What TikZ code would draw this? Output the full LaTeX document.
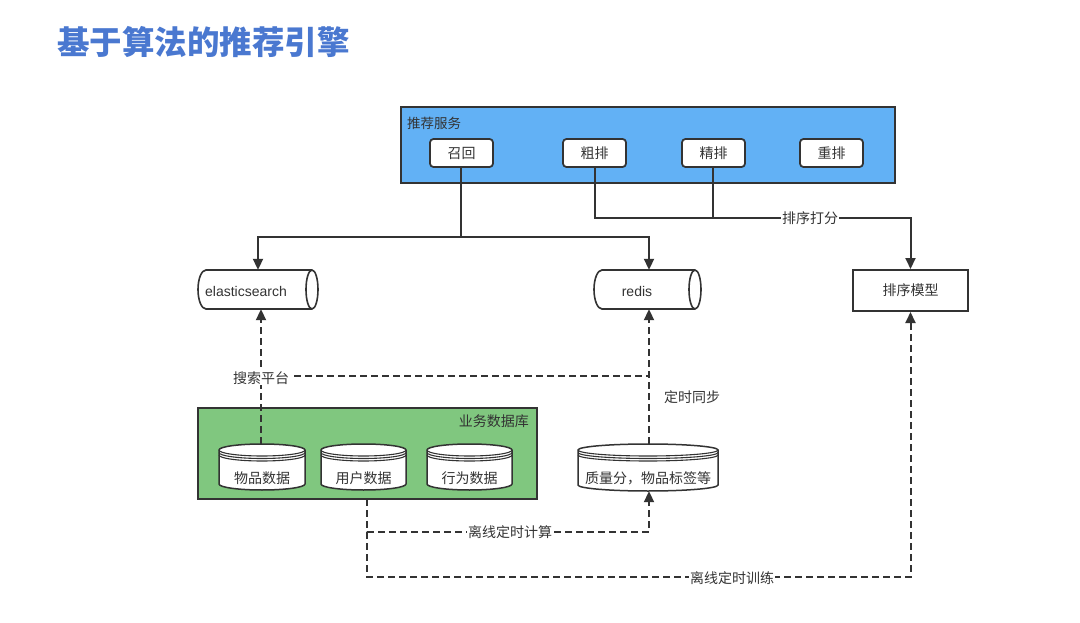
\documentclass[tikz,border=0pt]{standalone}
\usepackage{fontspec}
\setmainfont{Noto Sans CJK SC}
\newfontfamily\latinf{Liberation Sans}
\usetikzlibrary{arrows.meta}
\definecolor{svcblue}{HTML}{62B1F5}
\definecolor{dbgreen}{HTML}{80C77F}
\definecolor{titleblue}{HTML}{4A78D0}
\definecolor{ink}{HTML}{333333}
\tikzset{
  lbl/.style={font=\fontsize{14}{16}\selectfont, text=ink, inner sep=1pt},
  subbox/.style={draw=ink, line width=1.8pt, fill=white, rounded corners=3.5pt,
    minimum width=63pt, minimum height=28pt, lbl},
  conn/.style={draw=ink, line width=2pt},
  arr/.style={conn, -{Triangle[length=11pt,width=10pt]}},
  dconn/.style={conn, dash pattern=on 7pt off 4pt},
  darr/.style={dconn, -{Triangle[length=11pt,width=10pt]}},
  onlinelbl/.style={lbl, fill=white, inner sep=1pt},
}
\newcommand\dstore[7]{%
  \draw[line width=1.5pt, draw=ink, fill=white]
    ({#2-#5},{#3+6}) -- ({#2-#5},{#4-6}) arc (180:360:#5pt and 6pt)
    -- ({#2+#5},{#3+6}) arc (0:180:#5pt and 6pt) -- cycle;
  \foreach \dd in {6,8.5,11}
    \draw[line width=1.1pt, draw=ink] ({#2-#5},{#3+\dd}) arc (180:360:#5pt and 6pt);
  \node[minimum width={2*#5*1pt}, minimum height={(#4-#3)*1pt}, inner sep=0] (#1) at (#2,{(#3+#4)/2}) {};
  \node[lbl] at (#2,#6) {#7};
}
\begin{document}
\begin{tikzpicture}[x=1pt,y=-1pt]
\useasboundingbox (0,0) rectangle (1080,623);

% title
\node[anchor=west, text=titleblue, font=\fontsize{32.5}{36}\selectfont\bfseries, inner sep=0] (title) at (57,42) {基于算法的推荐引擎};

% service box
\node[draw=ink, line width=2.2pt, fill=svcblue, minimum width=494pt, minimum height=76pt, inner sep=0] (svc) at (648,145) {};
\node[lbl, anchor=west, font=\fontsize{13.5}{15}\selectfont] (svclbl) at (406,123) {推荐服务};
\node[subbox] (zh) at (461.5,153) {召回};
\node[subbox] (cp) at (594.5,153) {粗排};
\node[subbox] (jp) at (713.5,153) {精排};
\node[subbox] (cpp) at (831.5,153) {重排};

% elasticsearch cylinder
\draw[line width=1.6pt, draw=ink, fill=white] (206,270) -- (312,270) arc (90:-90:6pt and 19.5pt) -- (206,309) arc (270:90:8pt and 19.5pt) -- cycle;
\draw[line width=1.6pt, draw=ink] (312,270) arc (90:270:6pt and 19.5pt);
\node[minimum width=120pt, minimum height=39pt, inner sep=0] (es) at (258,289.5) {};
\node[lbl, font=\latinf\fontsize{14}{16}\selectfont] (eslbl) at (246,291) {elasticsearch};

% redis cylinder
\draw[line width=1.6pt, draw=ink, fill=white] (602,270) -- (695,270) arc (90:-90:6pt and 19.5pt) -- (602,309) arc (270:90:8pt and 19.5pt) -- cycle;
\draw[line width=1.6pt, draw=ink] (695,270) arc (90:270:6pt and 19.5pt);
\node[minimum width=107pt, minimum height=39pt, inner sep=0] (redis) at (649,289.5) {};
\node[lbl, font=\latinf\fontsize{14}{16}\selectfont] (redislbl) at (637,291) {redis};

% ranking model
\node[draw=ink, line width=2pt, fill=white, minimum width=115pt, minimum height=41pt, lbl] (model) at (910.5,290.5) {排序模型};

% business db
\node[draw=ink, line width=2.2pt, fill=dbgreen, minimum width=339pt, minimum height=91pt, inner sep=0] (db) at (367.5,453.5) {};
\node[lbl, anchor=east] (dblbl) at (530,421) {业务数据库};
\dstore{wd}{262}{444}{490}{43}{478}{物品数据}
\dstore{ud}{363.5}{444}{490}{42.5}{478}{用户数据}
\dstore{bd}{469.5}{444}{490}{42.5}{478}{行为数据}
\dstore{q}{648}{444}{491}{70}{478}{质量分，物品标签等}

% solid connectors
\coordinate (j1) at (461,237);
\draw[conn] (zh.south -| j1) -- (j1);
\draw[arr] (j1) -| (es.north);
\draw[arr] (j1) -| (redis.north);
\coordinate (j2) at (595,218);
\coordinate (j3) at (713,218);
\coordinate (j4) at (910.5,218);
\draw[conn] (cp.south -| j2) -- (j2) -- (j3);
\draw[conn] (jp.south -| j3) -- (j3);
\draw[arr] (j3) -- (j4) -- (model.north);
\node[onlinelbl] (pf) at (810,218) {排序打分};

% dashed connectors
\coordinate (s1) at (261,376);
\coordinate (s2) at (649,376);
\draw[darr] (wd.north -| s1) -- (es.south -| s1);
\draw[dconn] (s1) -- (s2);
\draw[darr] (q.north -| s2) -- (redis.south -| s2);
\node[onlinelbl] (ss) at (261,378) {搜索平台};
\node[lbl, anchor=west] (ds) at (663,397) {定时同步};

\coordinate (d0) at (367,499);
\coordinate (d1) at (367,532);
\coordinate (d2) at (367,577);
\draw[darr] (d0) -- (d1) -| (q.south -| s2);
\draw[darr] (d1) -- (d2) -| (model.south);
\node[onlinelbl] (lc) at (510,532) {离线定时计算};
\node[onlinelbl] (lx) at (732,578) {离线定时训练};
\end{tikzpicture}
\end{document}
